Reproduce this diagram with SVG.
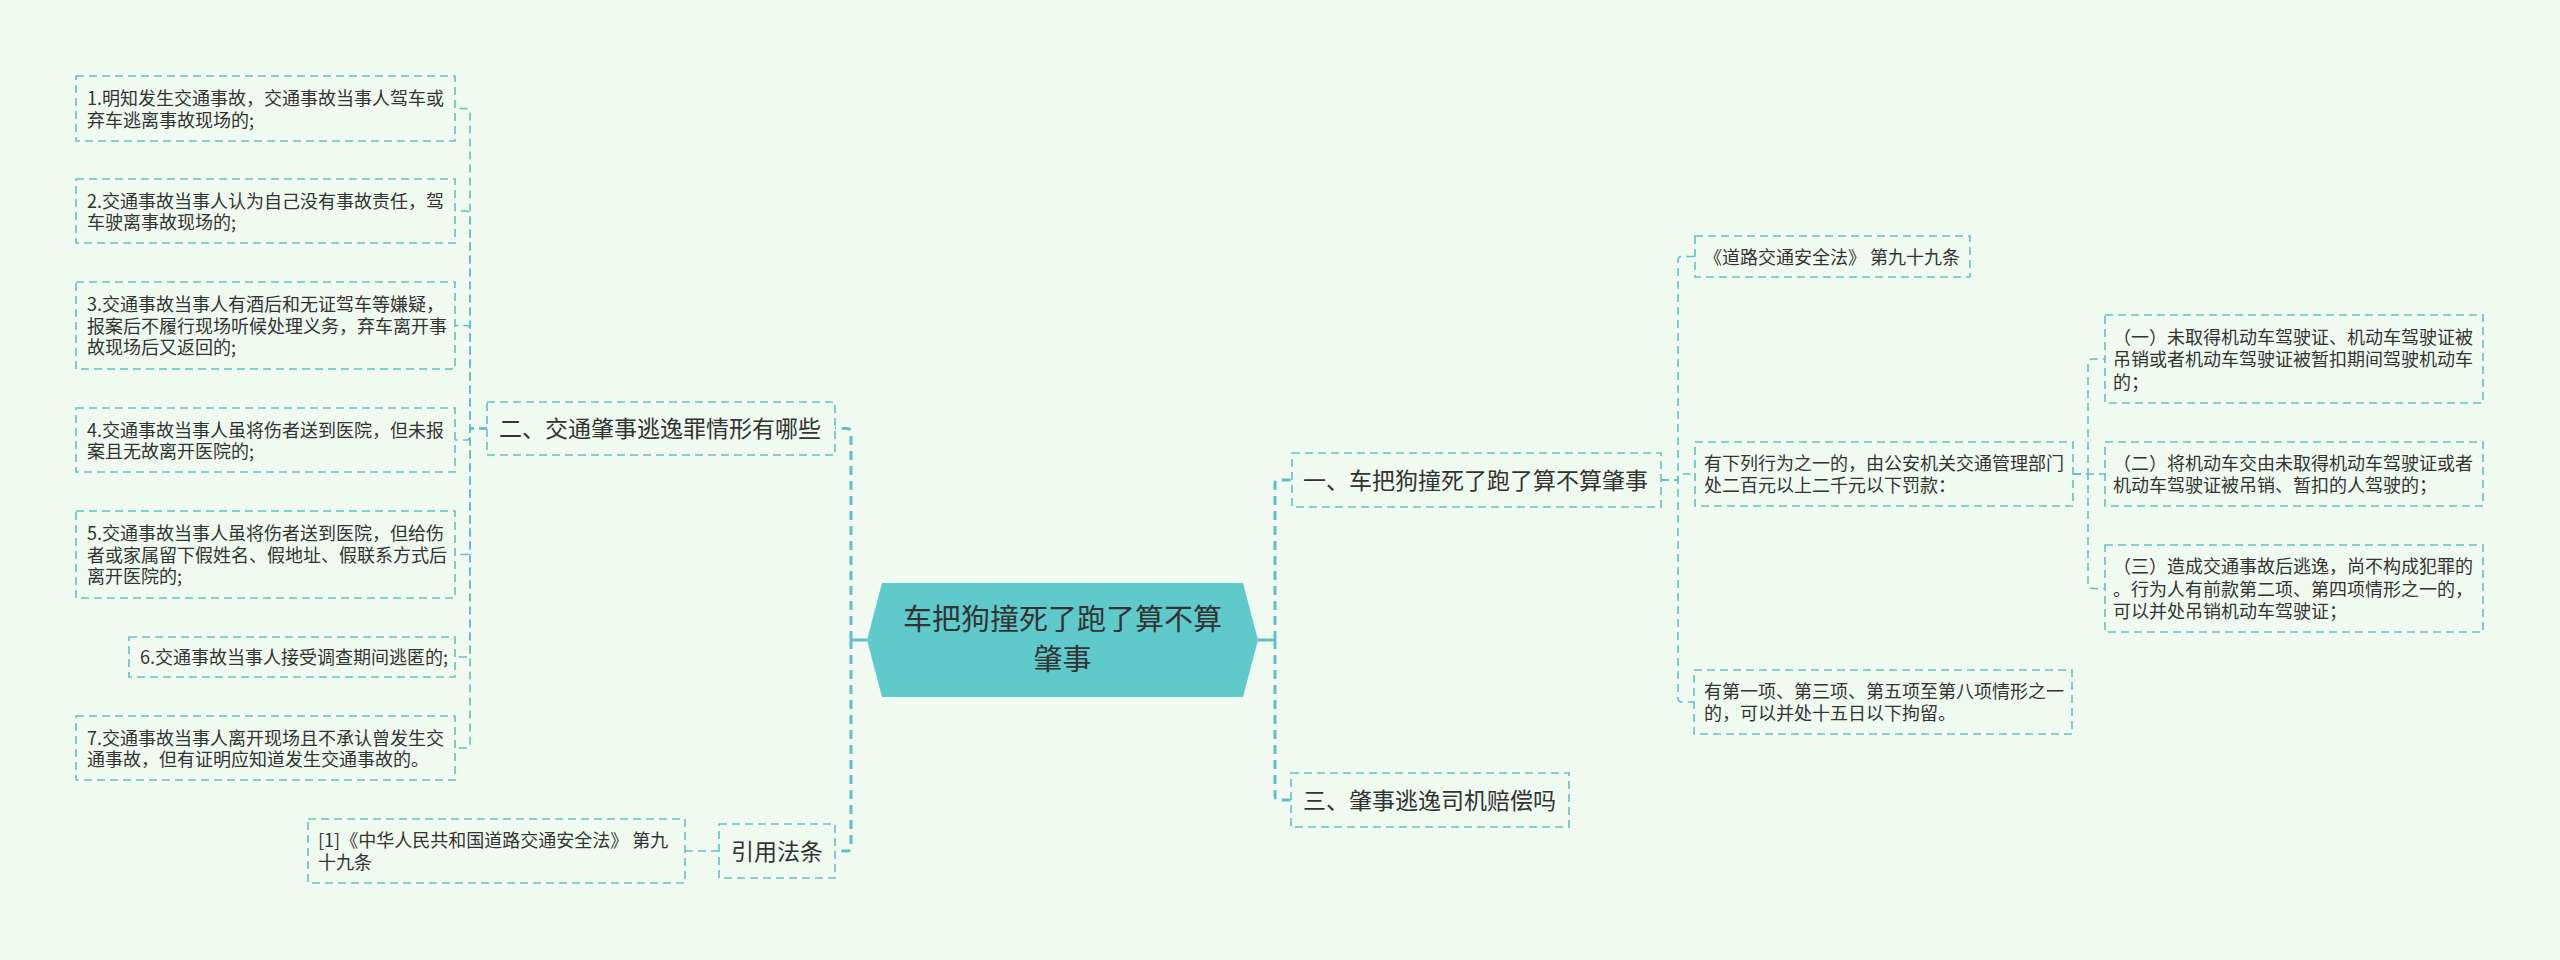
<svg xmlns="http://www.w3.org/2000/svg" width="2560" height="960" viewBox="0 0 2560 960">
<style>
.bg{fill:#f1faf1}
.box{fill:none;stroke:#63c0c4;stroke-width:1.6;stroke-dasharray:8 5}
.t{font-family:"Noto Sans CJK SC","Noto Sans",sans-serif;fill:#333}
.s{font-size:18px}
.m{font-size:23px}
.c{font-size:29px;text-anchor:middle}
.ln{fill:none;stroke:#63c0c4;stroke-width:1.6;stroke-dasharray:8 5}
.main{fill:none;stroke:#5ebfc3;stroke-width:3;stroke-dasharray:9 6}
.solid{fill:none;stroke:#5ebfc3;stroke-width:3}
</style>
<rect class="bg" x="0" y="0" width="2560" height="960"/>

<g id="connectors">
  <path class="solid" d="M867,640 H851"/>
  <path class="main" d="M851,640 V432.5 Q851,428.5 847,428.5 H835"/>
  <path class="main" d="M851,640 V847 Q851,851 847,851 H835"/>
  <path class="solid" d="M1258,640 H1275"/>
  <path class="main" d="M1275,640 V484 Q1275,480 1279,480 H1292"/>
  <path class="main" d="M1275,640 V796 Q1275,800 1279,800 H1291"/>
  <path class="ln" d="M487,428.5 H470 V112.5 Q470,108.5 466,108.5 H455"/>
  <path class="ln" d="M487,428.5 H470 V215 Q470,211 466,211 H455"/>
  <path class="ln" d="M487,428.5 H470 V329.5 Q470,325.5 466,325.5 H455"/>
  <path class="ln" d="M487,428.5 H470 V436 Q470,440 466,440 H455"/>
  <path class="ln" d="M487,428.5 H470 V550.5 Q470,554.5 466,554.5 H455"/>
  <path class="ln" d="M487,428.5 H470 V653 Q470,657 466,657 H455"/>
  <path class="ln" d="M487,428.5 H470 V744 Q470,748 466,748 H455"/>
  <path class="ln" d="M719,851 H685"/>
  <path class="ln" d="M1661,480 H1678 V260.5 Q1678,256.5 1682,256.5 H1695"/>
  <path class="ln" d="M1661,480 H1678 V478 Q1678,474 1682,474 H1695"/>
  <path class="ln" d="M1661,480 H1678 V698 Q1678,702 1682,702 H1694"/>
  <path class="ln" d="M2073,474 H2088 V363 Q2088,359 2092,359 H2105"/>
  <path class="ln" d="M2073,474 H2105"/>
  <path class="ln" d="M2073,474 H2088 V584.5 Q2088,588.5 2092,588.5 H2105"/>
</g>

<g id="center">
  <polygon points="882,583 1243,583 1258,640 1243,697 882,697 867,640" fill="#5fc9cb"/>
  <text class="t c" x="1062.5" y="630"><tspan x="1062.5" y="630">车把狗撞死了跑了算不算</tspan><tspan x="1062.5" y="670">肇事</tspan></text>
</g>

<g id="n2">
  <rect class="box" x="487" y="402" width="348" height="53"/>
  <text class="t m" x="499" y="437">二、交通肇事逃逸罪情形有哪些</text>
</g>

<g id="n2-1">
  <rect class="box" x="76" y="76" width="379" height="65"/>
  <text class="t s" x="87" y="105">1.明知发生交通事故，交通事故当事人驾车或</text>
  <text class="t s" x="87" y="126.5">弃车逃离事故现场的;</text>
</g>
<g id="n2-2">
  <rect class="box" x="76" y="179" width="379" height="64"/>
  <text class="t s" x="87" y="207.5">2.交通事故当事人认为自己没有事故责任，驾</text>
  <text class="t s" x="87" y="229">车驶离事故现场的;</text>
</g>
<g id="n2-3">
  <rect class="box" x="76" y="282" width="379" height="87"/>
  <text class="t s" x="87" y="311">3.交通事故当事人有酒后和无证驾车等嫌疑，</text>
  <text class="t s" x="87" y="332.5">报案后不履行现场听候处理义务，弃车离开事</text>
  <text class="t s" x="87" y="354">故现场后又返回的;</text>
</g>
<g id="n2-4">
  <rect class="box" x="76" y="408" width="379" height="64"/>
  <text class="t s" x="87" y="436.5">4.交通事故当事人虽将伤者送到医院，但未报</text>
  <text class="t s" x="87" y="458">案且无故离开医院的;</text>
</g>
<g id="n2-5">
  <rect class="box" x="76" y="511" width="379" height="87"/>
  <text class="t s" x="87" y="540">5.交通事故当事人虽将伤者送到医院，但给伤</text>
  <text class="t s" x="87" y="561.5">者或家属留下假姓名、假地址、假联系方式后</text>
  <text class="t s" x="87" y="583">离开医院的;</text>
</g>
<g id="n2-6">
  <rect class="box" x="129" y="637" width="326" height="40"/>
  <text class="t s" x="140" y="664">6.交通事故当事人接受调查期间逃匿的;</text>
</g>
<g id="n2-7">
  <rect class="box" x="76" y="716" width="379" height="64"/>
  <text class="t s" x="87" y="744.5">7.交通事故当事人离开现场且不承认曾发生交</text>
  <text class="t s" x="87" y="766">通事故，但有证明应知道发生交通事故的。</text>
</g>

<g id="n4">
  <rect class="box" x="719" y="824" width="116" height="54"/>
  <text class="t m" x="731" y="860">引用法条</text>
</g>
<g id="n4-1">
  <rect class="box" x="308" y="819" width="377" height="64"/>
  <text class="t s" x="318" y="847">[1]《中华人民共和国道路交通安全法》 第九</text>
  <text class="t s" x="318" y="868.5">十九条</text>
</g>

<g id="n1">
  <rect class="box" x="1292" y="453" width="369" height="54"/>
  <text class="t m" x="1303" y="489">一、车把狗撞死了跑了算不算肇事</text>
</g>
<g id="n1-1">
  <rect class="box" x="1695" y="236" width="275" height="41"/>
  <text class="t s" x="1704" y="263.5">《道路交通安全法》 第九十九条</text>
</g>
<g id="n1-2">
  <rect class="box" x="1695" y="442" width="378" height="64"/>
  <text class="t s" x="1704" y="470">有下列行为之一的，由公安机关交通管理部门</text>
  <text class="t s" x="1704" y="492">处二百元以上二千元以下罚款：</text>
</g>
<g id="n1-2-1">
  <rect class="box" x="2105" y="315" width="378" height="88"/>
  <text class="t s" x="2113" y="343.5">（一）未取得机动车驾驶证、机动车驾驶证被</text>
  <text class="t s" x="2113" y="366">吊销或者机动车驾驶证被暂扣期间驾驶机动车</text>
  <text class="t s" x="2113" y="388.5">的；</text>
</g>
<g id="n1-2-2">
  <rect class="box" x="2105" y="442" width="378" height="64"/>
  <text class="t s" x="2113" y="470">（二）将机动车交由未取得机动车驾驶证或者</text>
  <text class="t s" x="2113" y="492">机动车驾驶证被吊销、暂扣的人驾驶的；</text>
</g>
<g id="n1-2-3">
  <rect class="box" x="2105" y="545" width="378" height="87"/>
  <text class="t s" x="2113" y="573">（三）造成交通事故后逃逸，尚不构成犯罪的</text>
  <text class="t s" x="2113" y="595.5">。行为人有前款第二项、第四项情形之一的，</text>
  <text class="t s" x="2113" y="618">可以并处吊销机动车驾驶证；</text>
</g>
<g id="n1-3">
  <rect class="box" x="1694" y="670" width="378" height="64"/>
  <text class="t s" x="1704" y="698">有第一项、第三项、第五项至第八项情形之一</text>
  <text class="t s" x="1704" y="720">的，可以并处十五日以下拘留。</text>
</g>

<g id="n3">
  <rect class="box" x="1291" y="773" width="278" height="54"/>
  <text class="t m" x="1303" y="809">三、肇事逃逸司机赔偿吗</text>
</g>
</svg>
